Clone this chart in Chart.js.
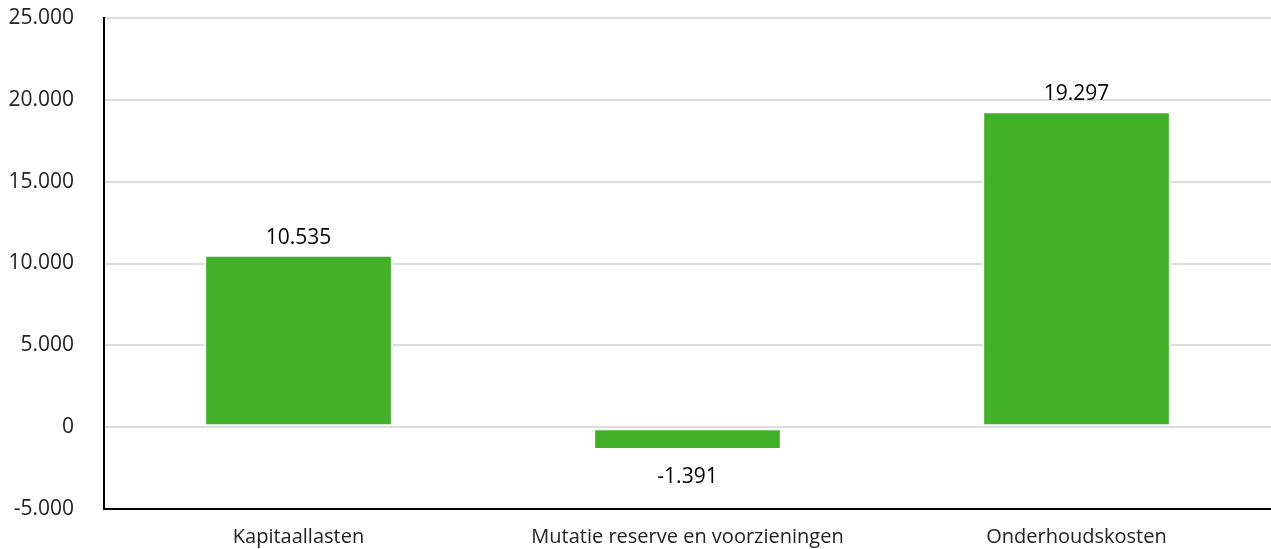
<!DOCTYPE html>
<html><head><meta charset="utf-8">
<script src="https://cdn.jsdelivr.net/npm/chart.js@4"></script>
<style>html,body{margin:0;padding:0;background:#fff}#wrap{width:1271px;height:549px}</style>
</head><body><div id="wrap"><canvas id="c"></canvas></div>
<script>
const categories = ["Kapitaallasten", "Mutatie reserve en voorzieningen", "Onderhoudskosten"];
const values = [10535, -1391, 19297];
const yTicks = [-5000, 0, 5000, 10000, 15000, 20000, 25000];

const fmt = v => new Intl.NumberFormat('nl-NL').format(v);

const labelPlugin = {
  id: 'vlabels',
  afterDatasetsDraw(chart) {
    const ctx = chart.ctx;
    const meta = chart.getDatasetMeta(0);
    ctx.save();
    ctx.font = '21px "Open Sans"';
    ctx.fillStyle = '#000';
    ctx.textAlign = 'center';
    ctx.textBaseline = 'middle';
    meta.data.forEach((bar, i) => {
      const v = values[i];
      if (v >= 0) ctx.fillText(fmt(v), bar.x, bar.y - 17);
      else ctx.fillText(fmt(v), bar.x, bar.y + 27);
    });
    ctx.restore();
  }
};

new Chart(document.getElementById('c'), {
  type: 'bar',
  data: { labels: categories, datasets: [{ data: values, backgroundColor: '#43b02a', borderColor: '#ffffff', borderWidth: 2, borderSkipped: false, barPercentage: 0.485, categoryPercentage: 1 }] },
  options: {
    responsive: true, maintainAspectRatio: false, animation: false,
    layout: { padding: { top: 18, right: 0, left: 1, bottom: 0 } },
    plugins: { legend: { display: false }, tooltip: { enabled: false } },
    scales: {
      x: {
        grid: { display: false, drawTicks: false },
        border: { color: '#000', width: 2 },
        ticks: { color: '#222', font: { family: '"Open Sans"', size: 20 }, padding: 16 },
        afterFit(s) { s.height = 40; s.paddingLeft = 0; s.paddingRight = 0; }
      },
      y: {
        min: -5000, max: 25000,
        afterBuildTicks(s) { s.ticks = yTicks.map(v => ({ value: v })); },
        grid: { color: '#dcdcdc', lineWidth: 2, drawTicks: false },
        border: { color: '#000', width: 2 },
        ticks: { color: '#222', font: { family: '"Open Sans"', size: 21 }, padding: 30, callback: v => fmt(v) },
        afterFit(s) { s.width = 103; s.paddingTop = 0; s.paddingBottom = 0; }
      }
    }
  },
  plugins: [labelPlugin]
});
</script></body></html>
